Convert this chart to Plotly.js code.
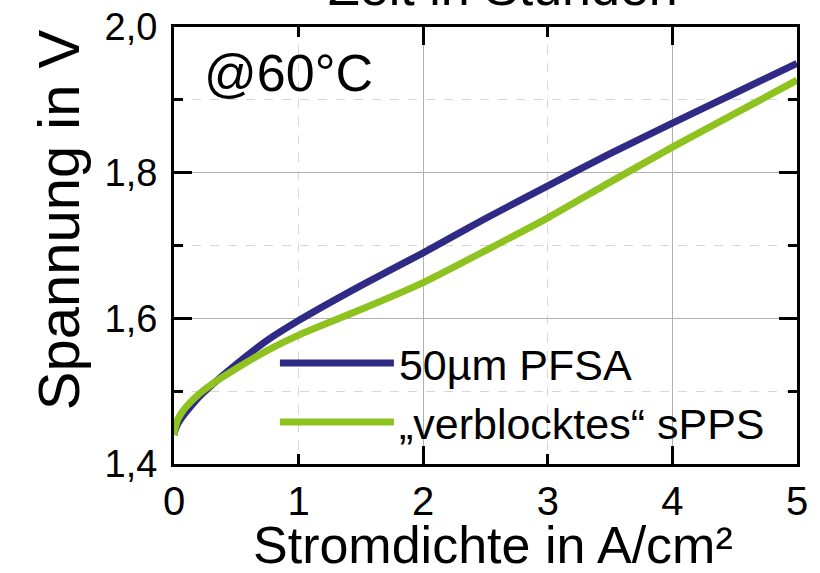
<!DOCTYPE html>
<html>
<head>
<meta charset="utf-8">
<script src="https://cdn.plot.ly/plotly-3.0.1.min.js"></script>
<style>html,body{margin:0;padding:0;background:#fff;}#chart{width:820px;height:573px;}</style>
</head>
<body>
<div id="chart"></div>
<script>
// Data
const currentDensity = [0, 0.01, 0.03, 0.06, 0.1, 0.2, 0.3, 0.5, 0.75, 1, 1.5, 2, 2.5, 3, 3.5, 4, 4.5, 5];
const pfsaVoltage = [1.440, 1.447, 1.455, 1.463, 1.472, 1.492, 1.508, 1.537, 1.570, 1.597, 1.645, 1.690, 1.737, 1.782, 1.826, 1.868, 1.909, 1.950];
const sppsVoltage = [1.440, 1.450, 1.461, 1.470, 1.479, 1.496, 1.509, 1.531, 1.556, 1.577, 1.612, 1.649, 1.693, 1.738, 1.787, 1.835, 1.881, 1.927];
const seriesNames = ["50µm PFSA", "„verblocktes“ sPPS"];
const xTitle = "Stromdichte in A/cm²";
const yTitle = "Spannung in V";
const topTitle = "Zeit in Stunden";
const tempLabel = "@60°C";

const FONT = "Liberation Sans, Arial, sans-serif";

const traces = [
  {x: currentDensity, y: pfsaVoltage, name: seriesNames[0], mode: "lines",
   line: {color: "#2f2a85", width: 7, shape: "spline", smoothing: 0.5}},
  {x: currentDensity, y: sppsVoltage, name: seriesNames[1], mode: "lines",
   line: {color: "#8dc21f", width: 7, shape: "spline", smoothing: 0.5}},
  {x: [], y: [], xaxis: "x2", yaxis: "y", showlegend: false, hoverinfo: "skip"}
];

const layout = {
  width: 820, height: 573,
  margin: {l: 174, r: 23, t: 27, b: 109},
  paper_bgcolor: "#fff", plot_bgcolor: "#fff",
  font: {family: FONT, color: "#000"},
  separators: ", ",
  showlegend: true,
  legend: {x: 0.162, y: 0.31, xanchor: "left", yanchor: "top", bgcolor: "rgba(0,0,0,0)",
           font: {size: 43, family: FONT}, itemwidth: 114, tracegroupgap: 0},
  xaxis: {
    range: [0, 5], dtick: 1, tick0: 0,
    ticks: "inside", ticklen: 10, tickwidth: 3, tickcolor: "#000",
    showline: true, linewidth: 3, linecolor: "#000", mirror: "ticks",
    showgrid: true, gridcolor: "#d6d6d6", gridwidth: 1, griddash: "dash",
    zeroline: false,
    tickfont: {size: 40}, ticklabelstandoff: 0
  },
  xaxis2: {
    overlaying: "x", range: [0, 5], dtick: 2, tick0: 0, side: "bottom",
    ticks: "inside", ticklen: 18, tickwidth: 3, tickcolor: "#000", mirror: "ticks",
    showline: false, showgrid: true, gridcolor: "#b0b0b0", gridwidth: 1,
    zeroline: false, showticklabels: false
  },
  yaxis: {
    range: [1.4, 2.0], dtick: 0.2, tick0: 1.4, tickformat: ".1f",
    ticks: "inside", ticklen: 18, tickwidth: 3, tickcolor: "#000",
    showline: true, linewidth: 3, linecolor: "#000", mirror: "ticks",
    showgrid: true, gridcolor: "#b0b0b0", gridwidth: 1,
    zeroline: false,
    minor: {dtick: 0.1, ticks: "inside", ticklen: 9, tickwidth: 3, tickcolor: "#000",
            showgrid: true, gridcolor: "#d6d6d6", gridwidth: 1, griddash: "dash"},
    tickfont: {size: 38}, ticklabelstandoff: 6
  },
  annotations: [
    {text: tempLabel, xref: "paper", yref: "paper", x: 0.045, y: 0.965,
     xanchor: "left", yanchor: "top", showarrow: false, font: {size: 52}},
    {text: topTitle, xref: "paper", yref: "paper", x: 0.528, y: 1.02,
     xanchor: "center", yanchor: "bottom", showarrow: false, font: {size: 52}},
    {text: xTitle, xref: "paper", yref: "paper", x: 0.512, y: -0.186,
     xanchor: "center", yanchor: "middle", showarrow: false, font: {size: 52}, borderpad: 0},
    {text: yTitle, xref: "paper", yref: "paper", x: -0.186, y: 0.558, textangle: -90,
     xanchor: "center", yanchor: "middle", showarrow: false, font: {size: 58}}
  ]
};

Plotly.newPlot("chart", traces, layout, {displayModeBar: false, staticPlot: true});
</script>
</body>
</html>
